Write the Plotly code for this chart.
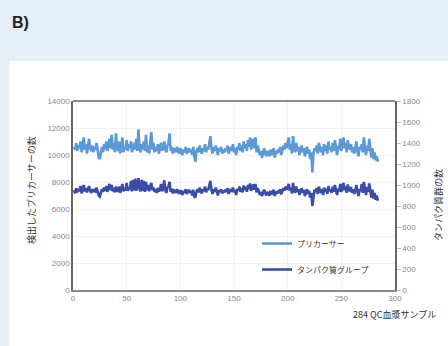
import plotly.graph_objects as go

precursors = [
    10600, 10400, 10900, 10300, 10700, 10500, 11000, 10200, 10600, 11300, 10400, 10800, 10100, 10900, 11200, 10500, 10300, 10700, 10200, 10600,
    10400, 10900, 10100, 9800, 9700, 10300, 10600, 10200, 10800, 10400, 11000, 10300, 10700, 11200, 10500, 11500, 10400, 10900, 10200, 11600,
    10500, 10300, 11000, 10100, 10700, 11300, 10200, 10600, 10400, 11100, 10300, 10800, 10500, 11000, 10200, 10600, 10900, 10400, 11200, 10300,
    11900, 10500, 10200, 10800, 10400, 11000, 10300, 11500, 10200, 10700, 10100, 11000, 11700, 10400, 10900, 10200, 10600, 10300, 10800, 10100,
    10500, 10900, 10300, 10600, 11000, 10400, 10200, 10700, 10900, 11600, 10300, 10600, 10100, 10500, 10400, 10200, 10600, 10300, 10100, 10500,
    10300, 10000, 10400, 10200, 10600, 10100, 10300, 10500, 10200, 10400, 10000, 10600, 9900, 9500, 10300, 10500, 10200, 10700, 10400, 10100,
    10500, 10300, 10800, 10200, 10600, 10400, 10900, 11400, 10500, 10100, 10600, 10300, 10700, 10200, 10000, 10500, 10300, 10600, 10100, 10400,
    10200, 10500, 10300, 10700, 10100, 10400, 10600, 10300, 10800, 10200, 10500, 10000, 10600, 10400, 10900, 10300, 10700, 10200, 11000, 10500,
    10800, 10300, 11100, 10600, 11300, 10400, 10900, 11200, 10500, 11300, 10200, 10700, 10400, 10000, 10300, 9800, 10100, 10500, 10200, 9900,
    10300, 10100, 9900, 10400, 10000, 10200, 10500, 9800, 10300, 10100, 10400, 10200, 10600, 10000, 10300, 10700, 10400, 10900, 10500, 10800,
    11300, 10400, 10800, 10100, 11400, 10600, 10200, 10900, 10300, 10600, 10000, 10400, 10700, 10200, 10500, 9900, 10300, 10600, 10100, 10400,
    9700, 10200, 8700, 10100, 10500, 10300, 10700, 10100, 10900, 10400, 10200, 10600, 10000, 10800, 10300, 10700, 10100, 11000, 10400, 10600,
    10200, 10900, 10300, 11100, 10500, 10000, 10700, 10400, 11200, 10300, 10800, 11300, 10500, 10900, 10200, 11100, 10600, 10400, 10800, 10200,
    10600, 10100, 10500, 11000, 10300, 9900, 10600, 10400, 10800, 10200, 11300, 10500, 10000, 10700, 10300, 11200, 10400, 9800, 10500, 9700,
    10200, 9600, 9900, 9500,
]

protein_groups = [
    950, 920, 970, 930, 960, 940, 990, 920, 950, 1000, 940, 970, 930, 960, 990, 945, 925, 960, 935, 950,
    940, 975, 925, 900, 890, 930, 960, 935, 975, 945, 990, 935, 965, 1010, 950, 1000, 940, 970, 930, 985,
    950, 935, 985, 925, 960, 1010, 940, 965, 950, 1020, 945, 980, 955, 1040, 940, 1050, 950, 1060, 945, 1030,
    1065, 960, 940, 1050, 945, 1040, 935, 1030, 950, 1000, 940, 985, 1020, 950, 975, 935, 960, 925, 970, 940,
    955, 1010, 940, 965, 1045, 950, 925, 975, 990, 1030, 935, 965, 920, 950, 945, 925, 960, 935, 915, 950,
    935, 905, 945, 925, 960, 915, 940, 955, 925, 945, 900, 955, 890, 880, 935, 960, 930, 975, 945, 920,
    960, 940, 985, 930, 965, 950, 1000, 1040, 955, 915, 960, 935, 975, 925, 900, 950, 935, 960, 920, 945,
    930, 955, 935, 970, 915, 945, 960, 935, 975, 930, 955, 905, 960, 945, 985, 935, 970, 930, 995, 955,
    980, 935, 1000, 960, 1015, 945, 985, 1005, 955, 1010, 930, 970, 945, 905, 935, 895, 920, 955, 930, 900,
    935, 920, 900, 945, 910, 930, 955, 895, 935, 920, 945, 925, 960, 910, 935, 970, 945, 985, 955, 975,
    1010, 945, 975, 920, 1020, 960, 925, 985, 935, 960, 905, 940, 970, 925, 955, 895, 935, 960, 915, 945,
    880, 925, 800, 915, 955, 935, 970, 915, 985, 945, 925, 960, 905, 975, 935, 965, 915, 990, 940, 960,
    925, 985, 935, 1000, 950, 905, 965, 940, 1010, 935, 975, 1020, 950, 985, 925, 1005, 960, 940, 980, 925,
    960, 915, 950, 1000, 935, 895, 960, 940, 1010, 925, 1030, 950, 905, 980, 935, 1015, 940, 880, 955, 870,
    925, 860, 900, 850,
]

samples = list(range(1, len(precursors) + 1))

x_ticks = [0, 50, 100, 150, 200, 250, 300]
left_ticks = [0, 2000, 4000, 6000, 8000, 10000, 12000, 14000]
right_ticks = [0, 200, 400, 600, 800, 1000, 1200, 1400, 1600, 1800]

series_names = ["プリカーサー", "タンパク質グループ"]
left_title = "検出したプリカーサーの数"
right_title = "タンパク質群の数"
x_title = "284 QC血漿サンプル"
panel_label = "B)"

W, H = 448, 346
L, R, T, B = 73, 53, 101, 56
pw, ph = W - L - R, H - T - B

def px(x):
    return (x - L) / pw

def py(y):
    return (H - B - y) / ph

FONT = "Liberation Sans, Noto Sans CJK JP, sans-serif"
CJK = "Noto Sans CJK JP, sans-serif"

fig = go.Figure()
fig.add_trace(go.Scatter(x=samples, y=precursors, mode="lines", name=series_names[0],
                         line=dict(color="#5b9ad6", width=2.6), legendgroup="a"))
fig.add_trace(go.Scatter(x=samples, y=protein_groups, mode="lines", name=series_names[1],
                         line=dict(color="#3a4ea8", width=2.6), yaxis="y2", legendgroup="b"))

fig.update_layout(
    width=W, height=H,
    margin=dict(l=L, r=R, t=T, b=B, pad=0),
    paper_bgcolor="#e4eff7",
    plot_bgcolor="white",
    font=dict(family=FONT, size=8, color="#888"),
    xaxis=dict(range=[0, 300], tickvals=x_ticks, showgrid=True, gridcolor="#f1f1f1",
               showline=True, linecolor="#8a8a8a", linewidth=1.5, mirror=False,
               ticks="", zeroline=False, tickfont=dict(size=8, color="#888")),
    yaxis=dict(range=[0, 14000], tickvals=left_ticks, tickformat="d", showgrid=True, gridcolor="#f1f1f1",
               showline=True, linecolor="#666", linewidth=1.5, ticks="", zeroline=False,
               tickfont=dict(size=8, color="#888")),
    yaxis2=dict(range=[0, 1800], tickvals=right_ticks, tickformat="d", overlaying="y", side="right",
                showgrid=False, showline=True, linecolor="#666", linewidth=1.5,
                ticks="outside", ticklen=4, tickcolor="#bbb", zeroline=False,
                tickfont=dict(size=8, color="#888")),
    showlegend=True,
    legend=dict(x=px(257), y=py(229), xanchor="left", yanchor="top",
                bgcolor="rgba(0,0,0,0)", font=dict(family=CJK, size=8, color="#333"),
                traceorder="grouped", tracegroupgap=7, itemwidth=30),
    shapes=[
        dict(type="rect", xref="paper", yref="paper", x0=px(9), x1=px(W + 2), y0=py(H + 2), y1=py(61),
             fillcolor="white", line=dict(width=0), layer="below"),
        dict(type="line", xref="paper", yref="paper", x0=0, x1=1, y0=1, y1=1,
             line=dict(color="#666", width=1.5)),
    ],
    annotations=[
        dict(text=f"<b>{panel_label}</b>", xref="paper", yref="paper", x=px(10), y=py(23),
             xanchor="left", yanchor="middle", showarrow=False,
             font=dict(family="Liberation Sans, sans-serif", size=16, color="#222")),
        dict(text=left_title, xref="paper", yref="paper", x=px(31), y=py(190),
             textangle=-90, xanchor="center", yanchor="middle", showarrow=False,
             font=dict(family=CJK, size=9, color="#333")),
        dict(text=right_title, xref="paper", yref="paper", x=px(438), y=py(205),
             textangle=-90, xanchor="center", yanchor="middle", showarrow=False,
             font=dict(family=CJK, size=9, color="#333")),
        dict(text=x_title, xref="paper", yref="paper", x=px(438), y=py(314),
             xanchor="right", yanchor="middle", showarrow=False,
             font=dict(family=CJK, size=9, color="#333")),
    ],
)

fig.write_html("out.html", config={"displayModeBar": False},
               post_script="document.body.style.margin='0';document.body.style.padding='0';document.body.style.background='#e4eff7';")
